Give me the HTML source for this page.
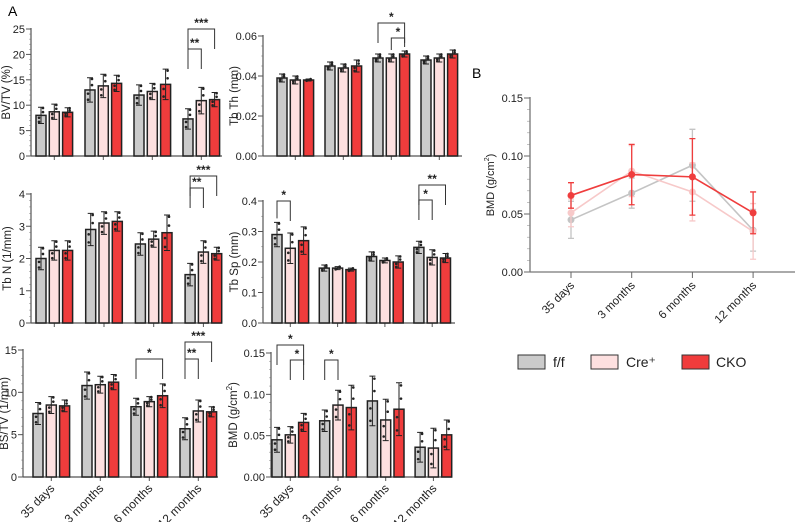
<!DOCTYPE html>
<html><head><meta charset="utf-8"><style>
body{margin:0;background:#fff;}
svg{font-family:"Liberation Sans",sans-serif;}
</style></head><body>
<svg id="c" width="795" height="522" viewBox="0 0 795 522">
<text x="8" y="16" font-size="14">A</text>
<text x="472" y="78" font-size="14">B</text>
</svg>
<script>
const groups = ["35 days","3 months","6 months","12 months"];
const seriesNames = ["f/f","Cre\u207A","CKO"];
const bvtv = [[8,8.7,8.6],[13,13.8,14.3],[12,12.7,14.1],[7.3,10.9,11.1]];
const bvtvErr = [[1.6,1.5,0.9],[2.4,2.3,1.6],[2.0,1.6,3.0],[2.0,2.6,1.4]];
const tbth = [[0.039,0.038,0.038],[0.045,0.044,0.045],[0.049,0.049,0.051],[0.048,0.049,0.051]];
const tbthErr = [[0.002,0.002,0.0005],[0.002,0.002,0.003],[0.002,0.002,0.0015],[0.002,0.002,0.002]];
const tbn = [[2.0,2.25,2.25],[2.9,3.1,3.15],[2.45,2.6,2.8],[1.5,2.2,2.15]];
const tbnErr = [[0.35,0.3,0.3],[0.5,0.35,0.3],[0.35,0.25,0.55],[0.35,0.35,0.2]];
const tbsp = [[0.29,0.245,0.27],[0.18,0.18,0.175],[0.218,0.205,0.2],[0.248,0.215,0.213]];
const tbspErr = [[0.04,0.05,0.045],[0.01,0.005,0.005],[0.015,0.008,0.02],[0.02,0.025,0.015]];
const bstv = [[7.5,8.5,8.4],[10.8,10.9,11.2],[8.3,8.9,9.6],[5.7,7.8,7.7]];
const bstvErr = [[1.3,1.0,0.7],[1.6,1.0,0.9],[1.0,0.6,1.4],[1.3,1.3,0.6]];
const bmd = [[0.045,0.051,0.066],[0.068,0.087,0.084],[0.092,0.069,0.082],[0.036,0.035,0.051]];
const bmdErr = [[0.015,0.01,0.011],[0.013,0.018,0.027],[0.03,0.025,0.032],[0.018,0.024,0.018]];
const bmdLineErr = [[0.016,0.012,0.011],[0.013,0.022,0.026],[0.031,0.025,0.033],[0.018,0.024,0.018]];
const ticksBV = [0,5,10,15,20,25];
const ticksTh = ["0.00","0.02","0.04","0.06"];
const ticksN = [0,1,2,3,4];
const ticksSp = ["0.0","0.1","0.2","0.3","0.4"];
const ticksBS = [0,5,10,15];
const ticksBMD = ["0.00","0.05","0.10","0.15"];

const NS="http://www.w3.org/2000/svg";
const svg=document.getElementById('c');
const fills=["#cbcbcb","#fde0e0","#f03c3c"];
const lineCols=["#c4c4c4","#f7c9c9","#ef3d3d"];
function mk(tag,attrs,parent){const e=document.createElementNS(NS,tag);for(const k in attrs)e.setAttribute(k,attrs[k]);(parent||svg).appendChild(e);return e;}

function panel(p){
  const g=mk('g',{});
  
  
  const ymax=parseFloat(p.ticks[p.ticks.length-1]);
  const y=v=>p.y0-(v/ymax)*(p.y0-p.y1);
  const x=(gi,s)=>p.x0+gi*p.gw+s*13.3;
  const nMinor=p.minor;
  for(let i=0;i<=nMinor;i++){const yy=p.y0-(p.y0-p.y1)*i/nMinor;const t=mk('line',{x1:p.ax-2,x2:p.ax,y1:yy,y2:yy,stroke:'#999','stroke-width':0.6},g);}
  p.ticks.forEach(tv=>{const yy=y(parseFloat(tv));
    const t=mk('line',{x1:p.ax-5,x2:p.ax,y1:yy,y2:yy,stroke:'#555','stroke-width':1},g);
    const tx=mk('text',{x:p.ax-6,y:yy+4,'font-size':11,'text-anchor':'end',fill:'#222'},g);tx.textContent=tv;});
  const ya=mk('line',{x1:p.ax,x2:p.ax,y1:p.y1-1,y2:p.y0,stroke:'#555','stroke-width':1.2},g);
  const xa=mk('line',{x1:p.ax,x2:p.xend,y1:p.y0,y2:p.y0,stroke:'#555','stroke-width':1.2},g);
  const yt=mk('text',{x:0,y:0,'font-size':11.5,'text-anchor':'middle',fill:'#222',transform:`translate(${p.tx},${(p.y0+p.y1)/2}) rotate(-90)`},g);
  yt.innerHTML=p.title;
  p.vals.forEach((gv,gi)=>{
    const xt=mk('line',{x1:x(gi,1),x2:x(gi,1),y1:p.y0,y2:p.y0+4,stroke:'#555','stroke-width':1},g);
    gv.forEach((v,s)=>{
      const cx=x(gi,s);
      const b=mk('rect',{x:cx-5,y:y(v),width:10,height:p.y0-y(v),fill:fills[s],stroke:'#222','stroke-width':1.5},g);
      
      const e=p.err[gi][s];
      const el=mk('path',{d:`M${cx},${y(v-e)}V${y(v+e)}M${cx-3},${y(v+e)}H${cx+3}M${cx-3},${y(v-e)}H${cx+3}`,stroke:'#222','stroke-width':1,fill:'none'},g);
      
      [v-e*0.8,v+e*0.9,v-e*0.3,v+e*0.4].forEach((dv,k)=>{const d=mk('circle',{cx:cx+(k%2?2:-2),cy:y(dv),r:1.3,fill:'#222'},g);});
    });
    if(p.xlabels){const tl=mk('text',{x:0,y:0,'font-size':12,'text-anchor':'end',fill:'#222',transform:`translate(${x(gi,1)+4},${p.y0+12}) rotate(-45)`},g);tl.textContent=groups[gi];}
  });
  (p.br||[]).forEach(b=>{
    const [gi,a,c,by,lab]=b;const x1=x(gi,a),x2=x(gi,c);
    const l1=Math.min(y(p.vals[gi][a]+p.err[gi][a])-4,by+20),l2=Math.min(y(p.vals[gi][c]+p.err[gi][c])-4,by+20);
    const bp=mk('path',{d:`M${x1},${l1}V${by}H${x2}V${l2}`,stroke:'#333','stroke-width':1,fill:'none'},g);
    
    const bt=mk('text',{x:(x1+x2)/2,y:by-2,'font-size':12,'font-weight':'bold','text-anchor':'middle',fill:'#222'},g);bt.textContent=lab;
    
  });
}
panel({name:'bvtv-panel',ax:31,y0:156,y1:29,x0:41,gw:49,xend:222,ticks:ticksBV,minor:25,vals:bvtv,err:bvtvErr,title:'BV/TV (%)',tx:10,br:[[3,0,1,49,'**'],[3,0,2,29,'***']]});
panel({name:'tbth-panel',ax:263,y0:156,y1:36,x0:282,gw:48,xend:462,ticks:ticksTh,minor:12,vals:tbth,err:tbthErr,title:'Tb Th (mm)',tx:238,br:[[2,0,2,23,'*'],[2,1,2,38,'*']]});
panel({name:'tbn-panel',ax:31,y0:323,y1:194,x0:41,gw:49.7,xend:222,ticks:ticksN,minor:20,vals:tbn,err:tbnErr,title:'Tb N (1/mm)',tx:11,br:[[3,0,1,188,'**'],[3,0,2,176,'***']]});
panel({name:'tbsp-panel',ax:263,y0:323,y1:201,x0:277,gw:47.3,xend:455,ticks:ticksSp,minor:8,vals:tbsp,err:tbspErr,title:'Tb Sp (mm)',tx:238,br:[[0,0,1,201,'*'],[3,0,1,200,'*'],[3,0,2,185,'**']]});
panel({name:'bstv-panel',ax:23,y0:477,y1:350,x0:38,gw:49,xend:218,ticks:ticksBS,minor:15,vals:bstv,err:bstvErr,title:'BS/TV (1/mm)',tx:8,xlabels:true,br:[[2,0,2,359,'*'],[3,0,1,359,'**'],[3,0,2,342,'***']]});
panel({name:'bmd-bar-panel',ax:271,y0:477,y1:353,x0:277,gw:47.7,xend:452,ticks:ticksBMD,minor:15,vals:bmd,err:bmdErr,title:'BMD (g/cm<tspan font-size="8" dy="-5">2</tspan><tspan dy="5">)</tspan>',tx:237,xlabels:true,br:[[0,0,2,345,'*'],[0,1,2,360,'*'],[1,0,1,360,'*']]});

(function(){
  const g=mk('g',{});
  const ax=530,y0=272,y1=98,ymax=0.15;
  const xs=i=>571+i*60.7;
  const y=v=>y0-(v/ymax)*(y0-y1);
  for(let i=0;i<=15;i++){const yy=y0-(y0-y1)*i/15;const t=mk('line',{x1:ax-3,x2:ax,y1:yy,y2:yy,stroke:'#999','stroke-width':0.6},g);}
  ticksBMD.forEach(tv=>{const yy=y(parseFloat(tv));
    const t=mk('line',{x1:ax-6,x2:ax,y1:yy,y2:yy,stroke:'#666','stroke-width':1},g);
    const tx=mk('text',{x:ax-7,y:yy+4,'font-size':11,'text-anchor':'end',fill:'#222'},g);tx.textContent=tv;});
  const ya=mk('line',{x1:ax,x2:ax,y1:y1-1,y2:y0,stroke:'#777','stroke-width':1.3},g);
  const xa=mk('line',{x1:ax,x2:795,y1:y0,y2:y0,stroke:'#777','stroke-width':1.3},g);
  const yt=mk('text',{x:0,y:0,'font-size':11,'text-anchor':'middle',fill:'#222',transform:`translate(494,185) rotate(-90)`},g);
  yt.innerHTML='BMD (g/cm<tspan font-size="7" dy="-5">2</tspan><tspan dy="5">)</tspan>';
  groups.forEach((lab,i)=>{const t=mk('line',{x1:xs(i),x2:xs(i),y1:y0,y2:y0+6,stroke:'#666','stroke-width':1},g);
    const tl=mk('text',{x:0,y:0,'font-size':11.5,'text-anchor':'end',fill:'#222',transform:`translate(${xs(i)+4},${y0+14}) rotate(-45)`},g);tl.textContent=lab;});
  [0,1,2].forEach(s=>{
    const pts=bmd.map((gv,i)=>`${xs(i)},${y(gv[s])}`).join(' ');
    const pl=mk('polyline',{points:pts,fill:'none',stroke:lineCols[s],'stroke-width':1.6},g);
    bmd.forEach((gv,i)=>{const v=gv[s],e=bmdLineErr[i][s],cx=xs(i);
      const el=mk('path',{d:`M${cx},${y(v-e)}V${y(v+e)}M${cx-3},${y(v+e)}H${cx+3}M${cx-3},${y(v-e)}H${cx+3}`,stroke:lineCols[s],'stroke-width':1.3,fill:'none'},g);
      const c=mk('circle',{cx:cx,cy:y(v),r:3.5,fill:lineCols[s]},g);});
  });
  const lx=[518,591,682];
  seriesNames.forEach((n,s)=>{
    const r=mk('rect',{x:lx[s],y:355,width:27,height:14,fill:fills[s],stroke:'#333','stroke-width':1},g);
    const t=mk('text',{x:lx[s]+(s==2?34:35),y:367,'font-size':14,fill:'#222'},g);t.textContent=n;
  });
})();
</script>
</body></html>
